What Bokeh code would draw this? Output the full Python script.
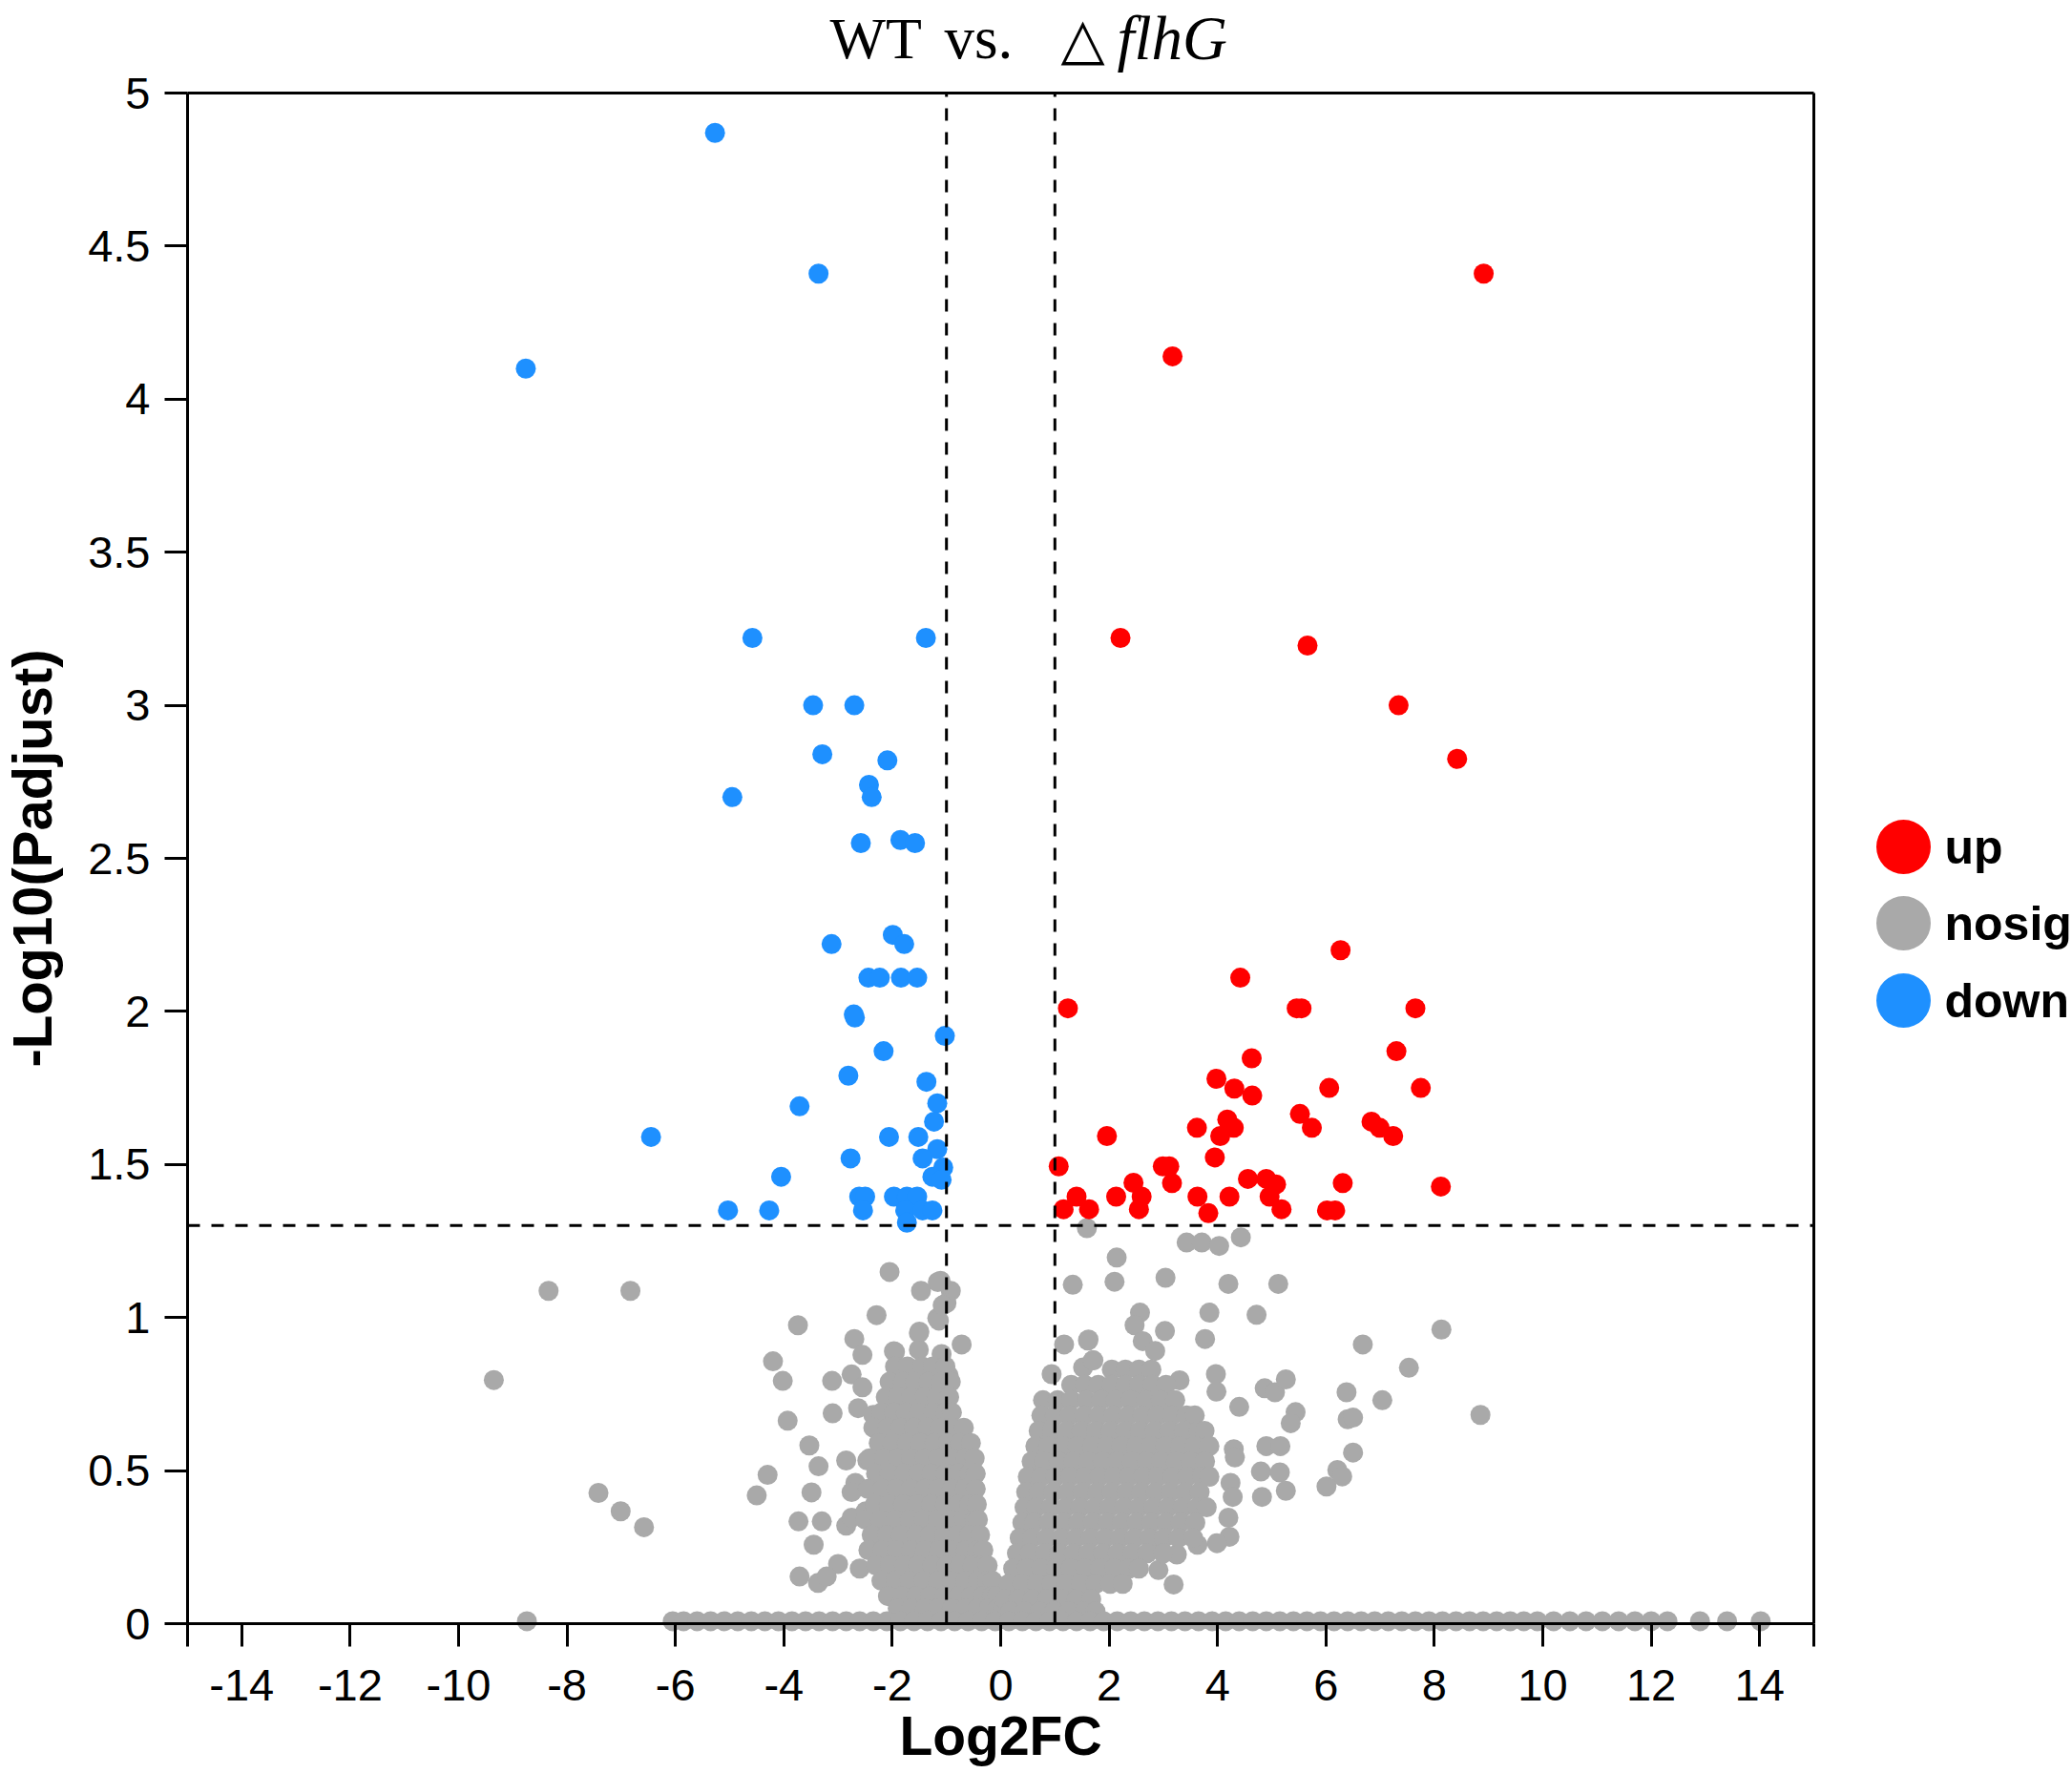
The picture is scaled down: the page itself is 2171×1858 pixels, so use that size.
from bokeh.plotting import figure
from bokeh.models import Range1d, FixedTicker
from bokeh.core.properties import value
from bokeh.embed import file_html
from bokeh.resources import INLINE

# ---------------- data ----------------
x_ticks = [-15, -14, -12, -10, -8, -6, -4, -2, 0, 2, 4, 6, 8, 10, 12, 14, 15]
x_tick_labels = ["", "-14", "-12", "-10", "-8", "-6", "-4", "-2", "0", "2", "4", "6", "8", "10", "12", "14", ""]
y_ticks = [0, 0.5, 1, 1.5, 2, 2.5, 3, 3.5, 4, 4.5, 5]
y_tick_labels = ["0", "0.5", "1", "1.5", "2", "2.5", "3", "3.5", "4", "4.5", "5"]

fc_cut = 1.0          # |log2FC| threshold
padj_cut = 1.301      # -log10(0.05)

up_x = [8.91, 3.17, 2.21, 5.66, 7.34, 8.42, 6.27, 4.42, 1.24, 5.46, 5.55, 7.65, 7.30, 4.63,
        3.98, 4.31, 4.64, 6.06, 7.75, 5.52, 5.74, 3.62, 4.18, 4.30, 4.05, 6.84, 6.99, 7.24,
        1.96, 3.95, 1.07, 2.99, 3.11, 3.16, 2.45, 2.60, 2.55, 4.56, 4.90, 5.08, 4.96, 5.18,
        6.31, 8.12, 1.40, 1.16, 1.63, 2.13, 3.63, 3.83, 4.22, 6.02, 6.17]
up_y = [4.41, 4.14, 3.22, 3.195, 3.00, 2.825, 2.20, 2.11, 2.01, 2.01, 2.01, 2.01, 1.87, 1.847,
        1.78, 1.748, 1.725, 1.75, 1.75, 1.665, 1.62, 1.62, 1.647, 1.62, 1.593, 1.64, 1.62, 1.593,
        1.593, 1.523, 1.494, 1.494, 1.494, 1.439, 1.44, 1.395, 1.354, 1.453, 1.453, 1.435, 1.395, 1.354,
        1.439, 1.428, 1.395, 1.354, 1.354, 1.395, 1.395, 1.341, 1.395, 1.35, 1.35]

down_x = [-5.27, -3.36, -8.76, -4.58, -1.38, -3.46, -2.70, -3.29, -2.09, -2.43, -2.38, -4.95,
          -2.58, -1.85, -1.58, -3.12, -1.99, -1.78, -2.44, -2.23, -1.84, -1.54, -2.71, -2.69,
          -1.03, -2.16, -2.81, -1.37, -1.17, -3.71, -1.23, -6.45, -2.06, -1.52, -2.77, -1.17,
          -1.44, -1.06, -1.26, -1.09, -4.05, -2.61, -2.50, -1.97, -1.73, -1.54, -2.54, -5.03,
          -4.27, -1.76, -1.44, -1.26, -1.73]
down_y = [4.87, 4.41, 4.10, 3.22, 3.22, 3.00, 3.00, 2.84, 2.82, 2.74, 2.70, 2.70,
          2.55, 2.56, 2.55, 2.22, 2.25, 2.22, 2.11, 2.11, 2.11, 2.11, 1.99, 1.98,
          1.92, 1.87, 1.79, 1.77, 1.70, 1.69, 1.64, 1.59, 1.59, 1.59, 1.52, 1.55,
          1.52, 1.49, 1.46, 1.45, 1.46, 1.395, 1.395, 1.395, 1.395, 1.395, 1.35, 1.35,
          1.35, 1.35, 1.35, 1.35, 1.31]

# scattered non-significant genes
nosig_points = [
    (-8.34, 1.087), (-6.83, 1.087), (-9.35, 0.796), (-7.42, 0.427), (-7.01, 0.367), (-6.58, 0.315),
    (-8.74, 0.008), (-2.05, 1.149), (-1.11, 1.12), (-0.92, 1.087), (-1.47, 1.087), (-1.00, 1.047),
    (-2.29, 1.008), (-3.74, 0.975), (-1.17, 0.998), (-1.51, 0.949), (-2.70, 0.93), (-1.95, 0.888),
    (-1.51, 0.895), (-1.09, 0.881), (-0.72, 0.912), (-2.55, 0.878), (-4.20, 0.857), (-4.02, 0.793),
    (-3.11, 0.793), (-2.75, 0.814), (-2.55, 0.772), (-1.87, 0.814), (-1.51, 0.824), (-0.96, 0.811),
    (-3.10, 0.687), (-2.63, 0.704), (-2.35, 0.682), (-3.93, 0.663), (-3.53, 0.582), (-3.36, 0.514),
    (-2.85, 0.533), (-2.46, 0.533), (-4.30, 0.486), (-4.50, 0.419), (-3.49, 0.429), (-3.73, 0.334),
    (-3.30, 0.334), (-3.45, 0.258), (-3.00, 0.195), (-2.60, 0.18), (-3.71, 0.154), (-3.37, 0.133),
    (-3.21, 0.154), (-2.68, 0.46), (-2.75, 0.43), (-2.85, 0.32), (-2.75, 0.346), (-2.32, 0.232),
    (-2.29, 0.284), (-2.00, 0.107), (-2.49, 0.367), (-1.50, 0.954), (-1.14, 0.99), (-1.97, 0.89),
    (-1.16, 1.116), (-1.07, 1.04),
    (1.59, 1.292), (3.43, 1.245), (3.71, 1.245), (4.03, 1.234), (4.43, 1.262), (2.14, 1.196),
    (1.33, 1.107), (2.10, 1.117), (3.04, 1.13), (4.20, 1.11), (5.12, 1.11), (2.57, 1.016),
    (2.47, 0.975), (3.03, 0.956), (3.85, 1.016), (4.72, 1.009), (3.77, 0.93), (2.62, 0.923),
    (2.85, 0.891), (1.17, 0.912), (1.61, 0.925), (1.71, 0.86), (1.52, 0.837), (6.68, 0.912),
    (8.13, 0.961), (0.94, 0.815), (7.53, 0.836), (3.30, 0.795), (3.97, 0.815), (3.98, 0.758),
    (4.87, 0.769), (5.06, 0.756), (5.26, 0.798), (6.38, 0.756), (7.04, 0.73), (8.85, 0.682),
    (4.40, 0.708), (5.44, 0.691), (5.35, 0.655), (6.40, 0.668), (6.50, 0.673), (4.90, 0.58),
    (5.16, 0.58), (4.30, 0.57), (4.32, 0.543), (4.80, 0.497), (5.15, 0.494), (6.50, 0.559),
    (6.21, 0.502), (6.30, 0.481), (6.01, 0.448), (4.82, 0.414), (5.26, 0.434), (4.24, 0.46),
    (4.28, 0.414), (4.20, 0.346), (4.22, 0.284), (3.99, 0.263), (3.63, 0.258), (3.25, 0.226),
    (2.91, 0.175), (3.19, 0.128), (2.89, 0.253), (1.62, 0.928), (1.70, 0.86),
]

# dense cloud left of 0 (rows of genes read by height)
left_rows_y = [0.84, 0.79, 0.74, 0.69, 0.64, 0.59, 0.54, 0.49, 0.44, 0.39, 0.34, 0.29, 0.24, 0.19, 0.14, 0.09, 0.05]
left_rows_x = [
    [-1.95, -1.72, -1.45, -1.25, -1.02],
    [-2.05, -1.80, -1.58, -1.33, -1.10, -0.92],
    [-2.12, -1.90, -1.65, -1.40, -1.18, -0.95],
    [-2.20, -1.97, -1.75, -1.50, -1.25, -1.02, -0.90],
    [-2.35, -2.08, -1.85, -1.60, -1.35, -1.12, -0.88, -0.68],
    [-2.25, -2.00, -1.73, -1.48, -1.22, -0.98, -0.75, -0.55],
    [-2.42, -2.15, -1.90, -1.65, -1.40, -1.15, -0.90, -0.65, -0.48],
    [-2.30, -2.05, -1.78, -1.52, -1.28, -1.02, -0.78, -0.58, -0.46],
    [-2.45, -2.18, -1.92, -1.66, -1.40, -1.15, -0.90, -0.66, -0.46],
    [-2.32, -2.06, -1.80, -1.54, -1.28, -1.03, -0.78, -0.58, -0.44],
    [-2.50, -2.22, -1.95, -1.68, -1.42, -1.16, -0.92, -0.68, -0.48, -0.42],
    [-2.38, -2.10, -1.84, -1.56, -1.30, -1.04, -0.80, -0.58, -0.38],
    [-2.44, -2.18, -1.92, -1.65, -1.40, -1.14, -0.88, -0.64, -0.44, -0.32],
    [-2.30, -2.04, -1.78, -1.52, -1.26, -1.00, -0.75, -0.52, -0.34, -0.24],
    [-2.20, -1.94, -1.68, -1.42, -1.16, -0.90, -0.65, -0.42, -0.25, -0.15],
    [-2.08, -1.82, -1.56, -1.30, -1.04, -0.78, -0.54, -0.32, -0.16, -0.07],
    [-1.90, -1.65, -1.40, -1.15, -0.90, -0.65, -0.42, -0.22, -0.05, 0.05],
]

# dense cloud right of 0
right_rows_y = [0.83, 0.78, 0.73, 0.68, 0.63, 0.58, 0.53, 0.48, 0.43, 0.38, 0.33, 0.28, 0.23, 0.18, 0.13, 0.08, 0.04]
right_rows_x = [
    [2.05, 2.30, 2.55, 2.78],
    [1.30, 1.55, 1.80, 2.05, 2.30, 2.55, 2.80, 3.05],
    [0.78, 1.05, 1.30, 1.58, 1.85, 2.12, 2.40, 2.68, 2.95, 3.22],
    [0.75, 1.00, 1.27, 1.54, 1.81, 2.08, 2.35, 2.62, 2.89, 3.16, 3.43, 3.58],
    [0.70, 0.95, 1.22, 1.49, 1.76, 2.03, 2.30, 2.57, 2.84, 3.11, 3.38, 3.65, 3.76],
    [0.64, 0.88, 1.15, 1.42, 1.69, 1.96, 2.23, 2.50, 2.77, 3.04, 3.31, 3.58, 3.85],
    [0.57, 0.80, 1.07, 1.34, 1.61, 1.88, 2.15, 2.42, 2.69, 2.96, 3.23, 3.50, 3.77],
    [0.50, 0.74, 1.01, 1.28, 1.55, 1.82, 2.09, 2.36, 2.63, 2.90, 3.17, 3.44, 3.71, 3.85],
    [0.47, 0.70, 0.97, 1.24, 1.51, 1.78, 2.05, 2.32, 2.59, 2.86, 3.13, 3.40, 3.67],
    [0.44, 0.66, 0.93, 1.20, 1.47, 1.74, 2.01, 2.28, 2.55, 2.82, 3.09, 3.36, 3.63, 3.80],
    [0.40, 0.62, 0.89, 1.16, 1.43, 1.70, 1.97, 2.24, 2.51, 2.78, 3.05, 3.32, 3.59],
    [0.35, 0.58, 0.85, 1.12, 1.39, 1.66, 1.93, 2.20, 2.47, 2.74, 3.01, 3.28, 3.55],
    [0.30, 0.54, 0.81, 1.08, 1.35, 1.62, 1.89, 2.16, 2.43, 2.70, 3.00],
    [0.23, 0.48, 0.75, 1.02, 1.29, 1.56, 1.83, 2.10, 2.37, 2.55],
    [0.15, 0.40, 0.67, 0.94, 1.21, 1.48, 1.75, 2.02, 2.25],
    [0.08, 0.32, 0.59, 0.86, 1.13, 1.40, 1.67],
    [0.18, 0.45, 0.72, 0.99, 1.26, 1.55, 1.75],
]

# genes with Padjust ~ 1 (bottom row)
base_level = 0.008
base_x = [-6.05, -5.85, -5.6, -5.35, -5.1, -4.85, -4.6, -4.35, -4.1, -3.85, -3.6, -3.35, -3.1,
          -2.85, -2.6, -2.35, -2.1, -1.85, -1.6, -1.35, -1.1, -0.85, -0.6, -0.35, -0.1, 0.15,
          0.4, 0.65, 0.9, 1.15, 1.4, 1.65, 1.9, 2.15, 2.4, 2.65, 2.9, 3.15, 3.4, 3.65, 3.9,
          4.15, 4.4, 4.65, 4.9, 5.15, 5.4, 5.65, 5.9, 6.15, 6.4, 6.65, 6.9, 7.15, 7.4, 7.65,
          7.9, 8.15, 8.4, 8.65, 8.9, 9.15, 9.4, 9.65, 9.9, 10.2, 10.5, 10.8, 11.1, 11.4, 11.7,
          12.0, 12.3, 12.9, 13.4, 14.02]

classes = ["up", "nosig", "down"]
class_colors = ["#FF0000", "#A9A9A9", "#1E90FF"]
title_parts = ["WT", "vs.", "\u25b3", "flhG"]
x_title = "Log2FC"
y_title = "-Log10(Padjust)"

# ---------------- assemble ----------------
gray_x = [pt[0] for pt in nosig_points]
gray_y = [pt[1] for pt in nosig_points]
for yy, row in zip(left_rows_y, left_rows_x):
    gray_x += row
    gray_y += [yy] * len(row)
for yy, row in zip(right_rows_y, right_rows_x):
    gray_x += row
    gray_y += [yy] * len(row)
gray_x += base_x
gray_y += [base_level] * len(base_x)

# ---------------- layout (pixels of the 2171 x 1858 page) ----------------
W, H = 2171, 1858
AX_L, AX_B = 196, 1701            # pixel where x=-15 / y=0 sit
PX_X = 1704 / 30.0                # pixels per log2FC unit
PX_Y = 1604 / 5.0                 # pixels per -log10 unit
X0, X1 = -15, 15
Y0, Y1 = 0, 5


def px2x(px):
    return X0 + (px - AX_L) / PX_X


def px2y(py):
    return (AX_B - py) / PX_Y


FONT = "Liberation Sans"

# the frame covers the whole page; the axes are pinned at x=-15 and y=0
p = figure(width=W, height=H, x_range=Range1d(px2x(0), px2x(W)), y_range=Range1d(px2y(H), px2y(0)),
           output_backend="svg", toolbar_location=None,
           min_border_left=0, min_border_right=0, min_border_top=0, min_border_bottom=0)
p.xgrid.visible = False
p.ygrid.visible = False
p.outline_line_color = None
p.background_fill_color = "white"
p.border_fill_color = "white"

DOT = 21
p.scatter(gray_x, gray_y, size=DOT, color=class_colors[1], line_color=None)
p.scatter(up_x, up_y, size=DOT, color=class_colors[0], line_color=None)
p.scatter(down_x, down_y, size=DOT, color=class_colors[2], line_color=None)

# threshold lines
p.segment(x0=[-fc_cut, fc_cut, X0], y0=[Y0, Y0, padj_cut], x1=[-fc_cut, fc_cut, X1], y1=[Y1, Y1, padj_cut],
          line_color="black", line_width=3, line_dash="13 12")
# top and right side of the box
p.segment(x0=[X0, X1], y0=[Y1, Y0], x1=[X1, X1], y1=[Y1, Y1], line_color="black", line_width=3)

xa = p.xaxis[0]
xa.ticker = FixedTicker(ticks=x_ticks)
xa.major_label_overrides = {t: l for t, l in zip(x_ticks, x_tick_labels)}
xa.bounds = (X0, X1)
xa.fixed_location = Y0
xa.major_label_standoff = 24
ya = p.yaxis[0]
ya.ticker = FixedTicker(ticks=y_ticks)
ya.major_label_overrides = {t: l for t, l in zip(y_ticks, y_tick_labels)}
ya.bounds = (Y0, Y1)
ya.fixed_location = X0
ya.major_label_standoff = 15
for ax in (xa, ya):
    ax.axis_line_width = 3
    ax.major_tick_line_width = 3
    ax.major_tick_in = 0
    ax.major_tick_out = 24
    ax.minor_tick_line_color = None
    ax.major_label_text_font = FONT
    ax.major_label_text_font_size = "47px"
    ax.major_label_text_color = "black"

bold = dict(text_font=value(FONT), text_font_style=value("bold"), text_color="black")
# axis titles
p.text([0.0], [px2y(1818)], text=[x_title], text_font_size=value("57px"),
       text_align="center", text_baseline="alphabetic", **bold)
p.text([px2x(33)], [2.5], text=[y_title], text_font_size=value("58px"), angle=1.5708,
       text_align="center", text_baseline="middle", **bold)

# legend to the right of the box
leg_y = [px2y(887), px2y(967), px2y(1048)]
p.scatter([px2x(1994)] * 3, leg_y, size=57, color=class_colors, line_color=None)
p.text([px2x(2037)] * 3, leg_y, text=classes, text_font_size=value("50px"),
       text_baseline="middle", text_align="left", **bold)

# title (kept just inside the top edge)
ty = px2y(39)
tkw = dict(text_baseline="alphabetic", text_align="left", text_color="black")
p.text([px2x(869)], [ty], text=[title_parts[0]], text_font=value("Liberation Serif"),
       text_font_size=value("62px"), **tkw)
p.text([px2x(989)], [ty], text=[title_parts[1]], text_font=value("Liberation Serif"),
       text_font_size=value("63px"), **tkw)
p.text([px2x(1111)], [ty], text=[title_parts[2]], text_font=value("DejaVu Sans"),
       text_font_size=value("60px"), **tkw)
p.text([px2x(1170)], [ty], text=[title_parts[3]], text_font=value("Liberation Serif"),
       text_font_size=value("65px"), text_font_style=value("italic"), **tkw)

open("out.html", "w").write(file_html(p, INLINE))
